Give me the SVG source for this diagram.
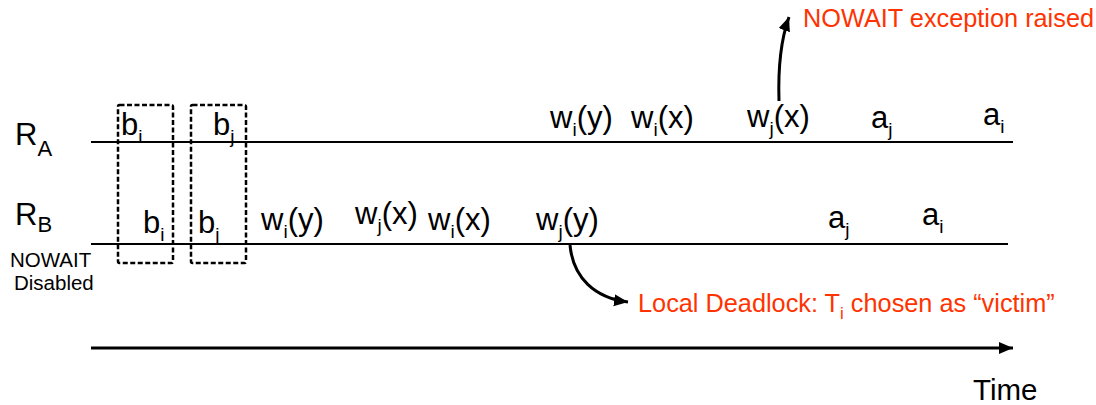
<svg xmlns="http://www.w3.org/2000/svg" width="1096" height="405" viewBox="0 0 1096 405">
  <style>
    text { font-family: "Liberation Sans", Arial, sans-serif; fill: #000; }
    .lbl { font-size: 31px; }
    .sub { font-size: 19px; }
    .res { font-size: 31px; }
    .rsub { font-size: 22px; }
    .note { font-size: 20.5px; }
    .red { font-size: 25.3px; fill: #FF3300; }
    .redsub { font-size: 17px; fill: #FF3300; }
    .time { font-size: 29.5px; }
    .tl { stroke: #000; stroke-width: 2; fill: none; }
    .box { stroke: #000; stroke-width: 2.5; stroke-dasharray: 5 2.5; fill: none; }
    .curve { stroke: #000; stroke-width: 3; fill: none; marker-end: url(#head); }
    .axis { stroke: #000; stroke-width: 3; fill: none; marker-end: url(#axisHead); }
  </style>
  <defs>
    <marker id="head" markerUnits="userSpaceOnUse" markerWidth="16" markerHeight="14" refX="14" refY="6" orient="auto">
      <path d="M0,0 L14,6 L0,12 Z" fill="#000"/>
    </marker>
    <marker id="axisHead" markerUnits="userSpaceOnUse" markerWidth="16" markerHeight="14" refX="14" refY="6" orient="auto">
      <path d="M0,0 L14,6 L0,12 Z" fill="#000"/>
    </marker>
  </defs>

  <rect width="1096" height="405" fill="#fff"/>

  <!-- resource timelines, time axis and annotation arrows -->
  <g id="connectors">
    <line class="tl" x1="91" y1="142" x2="1013" y2="142"/>
    <line class="tl" x1="91" y1="244" x2="1008" y2="244"/>
    <line class="axis" x1="91" y1="348" x2="1013" y2="348"/>
    <path class="curve" d="M779,101 C778,70 780,42 789,17"/>
    <path class="curve" d="M570,245 C573,278 595,298 628,302"/>
  </g>

  <!-- resource names -->
  <g id="res-a">
    <text class="res" x="15" y="145">R<tspan class="rsub" dy="11">A</tspan></text>
  </g>
  <g id="res-b">
    <text class="res" x="15" y="225">R<tspan class="rsub" dy="7">B</tspan></text>
    <text class="note" x="10" y="267">NOWAIT</text>
    <text class="note" x="14" y="290">Disabled</text>
  </g>

  <!-- begin groupings -->
  <g id="begin-i">
    <rect class="box" x="118" y="105" width="55" height="158" rx="1.5"/>
  </g>
  <g id="begin-j">
    <rect class="box" x="191" y="105" width="55" height="158" rx="1.5"/>
  </g>

  <!-- operations on R_A -->
  <g id="a-bi"><text class="lbl" x="121" y="135">b<tspan class="sub" dy="8">i</tspan></text></g>
  <g id="a-bj"><text class="lbl" x="213" y="135">b<tspan class="sub" dy="8">j</tspan></text></g>
  <g id="a-wiy"><text class="lbl" x="550" y="128">w<tspan class="sub" dy="8">i</tspan><tspan dy="-8">(y)</tspan></text></g>
  <g id="a-wix"><text class="lbl" x="631" y="128">w<tspan class="sub" dy="8">i</tspan><tspan dy="-8">(x)</tspan></text></g>
  <g id="a-wjx"><text class="lbl" x="747" y="127">w<tspan class="sub" dy="8">j</tspan><tspan dy="-8">(x)</tspan></text></g>
  <g id="a-aj"><text class="lbl" x="871" y="128">a<tspan class="sub" dy="8">j</tspan></text></g>
  <g id="a-ai"><text class="lbl" x="983" y="125">a<tspan class="sub" dy="8">i</tspan></text></g>

  <!-- operations on R_B -->
  <g id="b-bi"><text class="lbl" x="143" y="233">b<tspan class="sub" dy="8">i</tspan></text></g>
  <g id="b-bj"><text class="lbl" x="198" y="233">b<tspan class="sub" dy="8">j</tspan></text></g>
  <g id="b-wiy"><text class="lbl" x="261" y="230">w<tspan class="sub" dy="8">i</tspan><tspan dy="-8">(y)</tspan></text></g>
  <g id="b-wjx"><text class="lbl" x="355" y="224">w<tspan class="sub" dy="8">j</tspan><tspan dy="-8">(x)</tspan></text></g>
  <g id="b-wix"><text class="lbl" x="428" y="230">w<tspan class="sub" dy="8">i</tspan><tspan dy="-8">(x)</tspan></text></g>
  <g id="b-wjy"><text class="lbl" x="536" y="230">w<tspan class="sub" dy="8">j</tspan><tspan dy="-8">(y)</tspan></text></g>
  <g id="b-aj"><text class="lbl" x="828" y="228">a<tspan class="sub" dy="8">j</tspan></text></g>
  <g id="b-ai"><text class="lbl" x="922" y="225">a<tspan class="sub" dy="8">i</tspan></text></g>

  <!-- annotations -->
  <g id="nowait-note">
    <text class="red" x="803" y="27">NOWAIT exception raised</text>
  </g>
  <g id="deadlock-note">
    <text class="red" x="638" y="312">Local Deadlock: T<tspan class="redsub" dy="7">i</tspan><tspan dy="-7"> chosen as “victim”</tspan></text>
  </g>
  <g id="time-label">
    <text class="time" x="973" y="400">Time</text>
  </g>
</svg>
